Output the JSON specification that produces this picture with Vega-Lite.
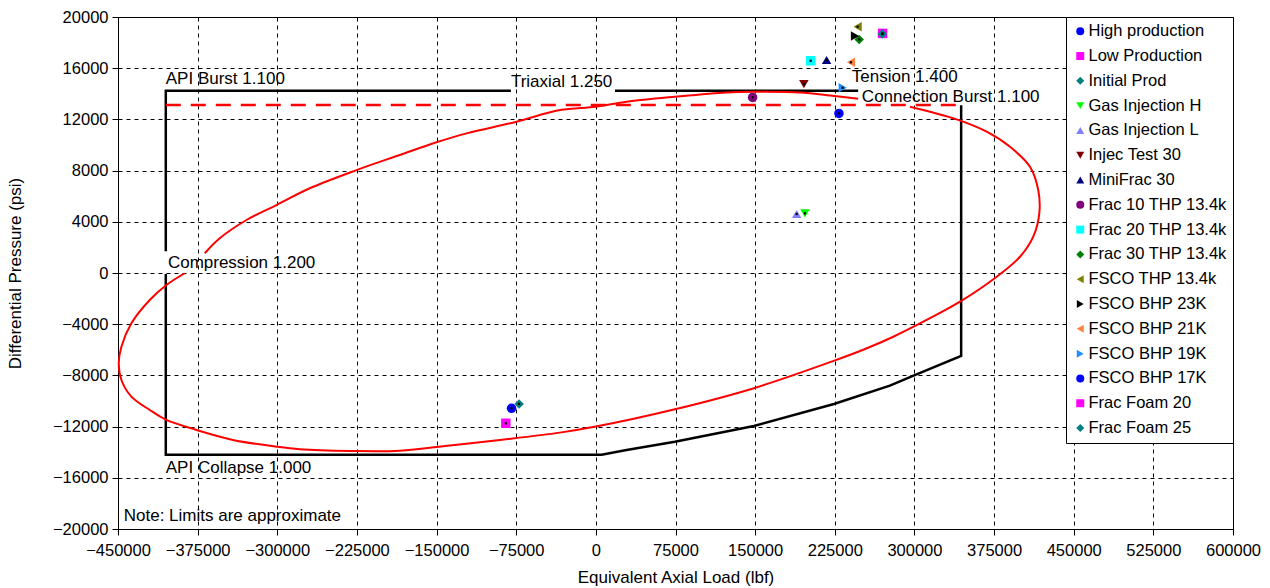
{
  "$schema": "https://vega.github.io/schema/vega-lite/v6.json",
  "width": 1115,
  "height": 512,
  "autosize": {"type": "none"},
  "padding": {"left": 118, "top": 17, "right": 37, "bottom": 59},
  "background": "white",
  "datasets": {
    "env": [
      {"seg": "a", "i": 1, "x": -405000, "y": 1690},
      {"seg": "a", "i": 2, "x": -405000, "y": 14240},
      {"seg": "a", "i": 3, "x": -80000, "y": 14240},
      {"seg": "b", "i": 1, "x": 18000, "y": 14240},
      {"seg": "b", "i": 2, "x": 247000, "y": 14240},
      {"seg": "c", "i": 1, "x": 344000, "y": 13100},
      {"seg": "c", "i": 2, "x": 344000, "y": -6480},
      {"seg": "c", "i": 3, "x": 298600, "y": -8040},
      {"seg": "c", "i": 4, "x": 276900, "y": -8800},
      {"seg": "c", "i": 5, "x": 224200, "y": -10230},
      {"seg": "c", "i": 6, "x": 148800, "y": -11950},
      {"seg": "c", "i": 7, "x": 74400, "y": -13180},
      {"seg": "c", "i": 8, "x": 28900, "y": -13820},
      {"seg": "c", "i": 9, "x": 5400, "y": -14190},
      {"seg": "c", "i": 10, "x": -405000, "y": -14190},
      {"seg": "c", "i": 11, "x": -405000, "y": -80}
    ],
    "conn": [
      {"x": -405000, "y": 13120},
      {"x": 342000, "y": 13120}
    ],
    "ell": [
      {"seg": "u", "i": 1, "x": -368300, "y": 1540},
      {"seg": "u", "i": 2, "x": -354200, "y": 2710},
      {"seg": "u", "i": 3, "x": -329000, "y": 4140},
      {"seg": "u", "i": 4, "x": -300800, "y": 5310},
      {"seg": "u", "i": 5, "x": -269400, "y": 6620},
      {"seg": "u", "i": 6, "x": -225400, "y": 8040},
      {"seg": "u", "i": 7, "x": -184600, "y": 9220},
      {"seg": "u", "i": 8, "x": -150100, "y": 10210},
      {"seg": "u", "i": 9, "x": -121800, "y": 10910},
      {"seg": "u", "i": 10, "x": -74700, "y": 11820},
      {"seg": "u", "i": 11, "x": -33900, "y": 12730},
      {"seg": "u", "i": 12, "x": 0, "y": 12990},
      {"seg": "u", "i": 13, "x": 28900, "y": 13380},
      {"seg": "u", "i": 14, "x": 74400, "y": 13770},
      {"seg": "u", "i": 15, "x": 123100, "y": 14110},
      {"seg": "u", "i": 16, "x": 148800, "y": 14160},
      {"seg": "u", "i": 17, "x": 192200, "y": 14110},
      {"seg": "u", "i": 18, "x": 224500, "y": 13820},
      {"seg": "u", "i": 19, "x": 247000, "y": 13620},
      {"seg": "l", "i": 1, "x": 295800, "y": 12990},
      {"seg": "l", "i": 2, "x": 339800, "y": 12000},
      {"seg": "l", "i": 3, "x": 368000, "y": 11040},
      {"seg": "l", "i": 4, "x": 390000, "y": 9860},
      {"seg": "l", "i": 5, "x": 408800, "y": 8300},
      {"seg": "l", "i": 6, "x": 416600, "y": 6480},
      {"seg": "l", "i": 7, "x": 417600, "y": 4660},
      {"seg": "l", "i": 8, "x": 411900, "y": 2840},
      {"seg": "l", "i": 9, "x": 399400, "y": 1270},
      {"seg": "l", "i": 10, "x": 377500, "y": -290},
      {"seg": "l", "i": 11, "x": 342900, "y": -2240},
      {"seg": "l", "i": 12, "x": 311500, "y": -3670},
      {"seg": "l", "i": 13, "x": 280100, "y": -4980},
      {"seg": "l", "i": 14, "x": 251800, "y": -6000},
      {"seg": "l", "i": 15, "x": 224500, "y": -6850},
      {"seg": "l", "i": 16, "x": 148800, "y": -9000},
      {"seg": "l", "i": 17, "x": 74400, "y": -10650},
      {"seg": "l", "i": 18, "x": 0, "y": -12000},
      {"seg": "l", "i": 19, "x": -33900, "y": -12470},
      {"seg": "l", "i": 20, "x": -90400, "y": -13040},
      {"seg": "l", "i": 21, "x": -137500, "y": -13470},
      {"seg": "l", "i": 22, "x": -184600, "y": -13880},
      {"seg": "l", "i": 23, "x": -231700, "y": -13900},
      {"seg": "l", "i": 24, "x": -278800, "y": -13770},
      {"seg": "l", "i": 25, "x": -300800, "y": -13570},
      {"seg": "l", "i": 26, "x": -341700, "y": -13040},
      {"seg": "l", "i": 27, "x": -376100, "y": -12260},
      {"seg": "l", "i": 28, "x": -404400, "y": -11480},
      {"seg": "l", "i": 29, "x": -420100, "y": -10700},
      {"seg": "l", "i": 30, "x": -437400, "y": -9660},
      {"seg": "l", "i": 31, "x": -446800, "y": -8360},
      {"seg": "l", "i": 32, "x": -449300, "y": -7050},
      {"seg": "l", "i": 33, "x": -446800, "y": -5760},
      {"seg": "l", "i": 34, "x": -437400, "y": -3930},
      {"seg": "l", "i": 35, "x": -420100, "y": -2110},
      {"seg": "l", "i": 36, "x": -404400, "y": -940},
      {"seg": "l", "i": 37, "x": -387200, "y": -20}
    ],
    "pts": [
      {"series": "High production", "x": -79400, "y": -10570},
      {"series": "Low Production", "x": -84800, "y": -11740},
      {"series": "Initial Prod", "x": -72300, "y": -10230},
      {"series": "Gas Injection H", "x": 196900, "y": 4660},
      {"series": "Gas Injection L", "x": 189100, "y": 4610},
      {"series": "Injec Test 30", "x": 195900, "y": 14760},
      {"series": "MiniFrac 30", "x": 217300, "y": 16640},
      {"series": "Frac 10 THP 13.4k", "x": 147600, "y": 13720},
      {"series": "Frac 20 THP 13.4k", "x": 202300, "y": 16580},
      {"series": "Frac 30 THP 13.4k", "x": 248000, "y": 18250},
      {"series": "FSCO THP 13.4k", "x": 246500, "y": 19240},
      {"series": "FSCO BHP 23K", "x": 244000, "y": 18510},
      {"series": "FSCO BHP 21K", "x": 240200, "y": 16460},
      {"series": "FSCO BHP 19K", "x": 232400, "y": 14470},
      {"series": "FSCO BHP 17K", "x": 228900, "y": 12470},
      {"series": "Frac Foam 20", "x": 270000, "y": 18720},
      {"series": "Frac Foam 25", "x": 269700, "y": 18670}
    ],
    "labels": [
      {"label": "API Burst 1.100", "x": -405000, "y": 15150},
      {"label": "Triaxial 1.250", "x": -80000, "y": 14900},
      {"label": "Tension 1.400", "x": 241000, "y": 15300},
      {"label": "Connection Burst 1.100", "x": 250500, "y": 13780},
      {"label": "Compression 1.200", "x": -403000, "y": 780},
      {"label": "API Collapse 1.000", "x": -405000, "y": -15230},
      {"label": "Note: Limits are approximate", "x": -444600, "y": -18980}
    ]
  },
  "encoding": {
    "x": {
      "field": "x", "type": "quantitative",
      "scale": {"domain": [-450000, 600000], "nice": false, "zero": false},
      "axis": {
        "title": "Equivalent Axial Load (lbf)",
        "values": [-450000, -375000, -300000, -225000, -150000, -75000, 0, 75000, 150000, 225000, 300000, 375000, 450000, 525000, 600000],
        "format": "d", "labelPadding": 7, "titlePadding": 11, "labelOverlap": false, "labelFlush": false
      }
    },
    "y": {
      "field": "y", "type": "quantitative",
      "scale": {"domain": [-20000, 20000], "nice": false, "zero": false},
      "axis": {
        "title": "Differential Pressure (psi)",
        "values": [-20000, -16000, -12000, -8000, -4000, 0, 4000, 8000, 12000, 16000, 20000],
        "format": "d", "labelPadding": 4, "titlePadding": 28, "labelOverlap": false, "labelFlush": false
      }
    }
  },
  "layer": [
    {
      "data": {"name": "env"},
      "mark": {"type": "line", "color": "black", "strokeWidth": 2.5},
      "encoding": {"detail": {"field": "seg"}, "order": {"field": "i", "type": "quantitative"}}
    },
    {
      "data": {"name": "conn"},
      "mark": {"type": "line", "color": "#ff0000", "strokeWidth": 2.5, "strokeDash": [15, 10]},
      "encoding": {}
    },
    {
      "data": {"name": "ell"},
      "mark": {"type": "line", "color": "#ff0000", "strokeWidth": 2, "interpolate": "catmull-rom"},
      "encoding": {"detail": {"field": "seg"}, "order": {"field": "i", "type": "quantitative"}}
    },
    {
      "data": {"name": "labels"},
      "mark": {"type": "text", "align": "left", "baseline": "middle", "fontSize": 17, "color": "black", "font": "Liberation Sans"},
      "encoding": {"text": {"field": "label"}}
    },
    {
      "data": {"name": "pts"},
      "mark": {"type": "point", "filled": true, "opacity": 1, "size": 90},
      "encoding": {
        "color": {
          "field": "series", "type": "nominal",
          "scale": {
            "domain": ["High production", "Low Production", "Initial Prod", "Gas Injection H", "Gas Injection L", "Injec Test 30", "MiniFrac 30", "Frac 10 THP 13.4k", "Frac 20 THP 13.4k", "Frac 30 THP 13.4k", "FSCO THP 13.4k", "FSCO BHP 23K", "FSCO BHP 21K", "FSCO BHP 19K", "FSCO BHP 17K", "Frac Foam 20", "Frac Foam 25"],
            "range": ["#0000ff", "#ff00ff", "#008080", "#00ff00", "#8080ff", "#800000", "#000080", "#800080", "#00ffff", "#008000", "#808000", "#000000", "#ff8040", "#1e90ff", "#0000ff", "#ff00ff", "#008080"]
          },
          "legend": {"title": null}
        },
        "shape": {
          "field": "series", "type": "nominal",
          "scale": {
            "domain": ["High production", "Low Production", "Initial Prod", "Gas Injection H", "Gas Injection L", "Injec Test 30", "MiniFrac 30", "Frac 10 THP 13.4k", "Frac 20 THP 13.4k", "Frac 30 THP 13.4k", "FSCO THP 13.4k", "FSCO BHP 23K", "FSCO BHP 21K", "FSCO BHP 19K", "FSCO BHP 17K", "Frac Foam 20", "Frac Foam 25"],
            "range": ["circle", "square", "diamond", "triangle-down", "triangle-up", "triangle-down", "triangle-up", "circle", "square", "diamond", "triangle-left", "triangle-right", "triangle-left", "triangle-right", "circle", "square", "diamond"]
          },
          "legend": {"title": null}
        }
      }
    },
    {
      "data": {"name": "pts"},
      "mark": {"type": "point", "filled": true, "opacity": 1, "size": 5, "shape": "square", "color": "black"},
      "encoding": {}
    }
  ],
  "config": {
    "font": "Liberation Sans",
    "view": {"stroke": "black", "strokeWidth": 1},
    "axis": {
      "labelFont": "Liberation Sans", "labelFontSize": 16.5, "labelColor": "black",
      "titleFont": "Liberation Sans", "titleFontSize": 17, "titleFontWeight": "normal", "titleColor": "black",
      "domainColor": "black", "tickColor": "black", "tickSize": 6,
      "gridColor": "black", "gridDash": [4, 4], "gridOpacity": 1, "gridWidth": 1
    },
    "legend": {
      "orient": "top-right", "offset": 0,
      "fillColor": "white", "strokeColor": "black", "padding": 6,
      "labelFont": "Liberation Sans", "labelFontSize": 16.5, "labelColor": "black", "labelLimit": 300,
      "symbolSize": 64, "symbolType": "circle", "labelOffset": 0, "rowPadding": 7.8,
      "symbolStrokeWidth": 0
    }
  }
}
